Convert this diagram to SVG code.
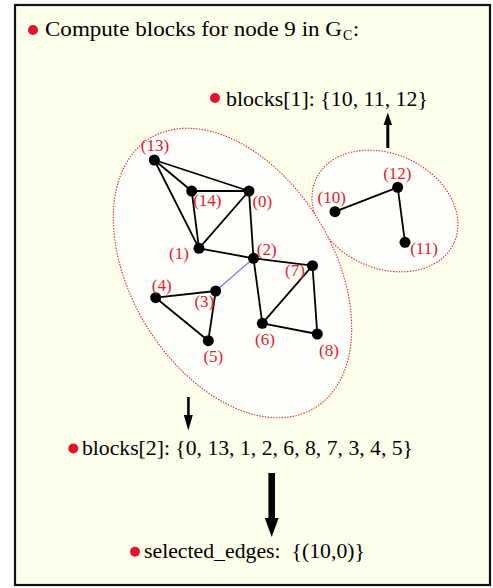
<svg xmlns="http://www.w3.org/2000/svg" width="493" height="588" viewBox="0 0 493 588">
<style>
.txt{font-family:"Liberation Serif","Times New Roman",serif;font-size:22px;fill:#000}
.lbl{font-family:"Liberation Serif","Times New Roman",serif;font-size:17px;fill:#e3202c;text-anchor:middle}
.bul{fill:#e5102c}
.blk{stroke:#e3202c;stroke-width:1.1;stroke-dasharray:1.4 1.4;fill:#fefffb}
.e{stroke:#000;stroke-width:1.8;fill:none}
.n{fill:#000}
</style>
<rect x="15" y="5" width="475" height="580" fill="#fdffea" stroke="#111" stroke-width="2.2"/>
<g id="title">
<circle class="bul" cx="33" cy="30" r="5"/>
<text class="txt" x="45" y="36" textLength="297" lengthAdjust="spacingAndGlyphs">Compute blocks for node 9 in G</text>
<text class="txt" x="343" y="40" style="font-size:14px">C</text>
<text class="txt" x="353" y="36">:</text>
</g>
<g id="block1-ellipse">
<ellipse class="blk" cx="385" cy="211" rx="76" ry="57" transform="rotate(25 385 211)"/>
</g>
<g id="block2-ellipse">
<ellipse class="blk" cx="232.5" cy="273" rx="158" ry="101" transform="rotate(58.6 232.5 273)"/>
</g>
<g id="connectors">
<line class="e" x1="154.3" y1="160" x2="191.7" y2="191"/>
<line class="e" x1="154.3" y1="160" x2="249" y2="191"/>
<line class="e" x1="154.3" y1="160" x2="199" y2="248.3"/>
<line class="e" x1="191.7" y1="191" x2="249" y2="191"/>
<line class="e" x1="191.7" y1="191" x2="199" y2="248.3"/>
<line class="e" x1="249" y1="191" x2="199" y2="248.3"/>
<line class="e" x1="249" y1="191" x2="253.5" y2="258.3"/>
<line class="e" x1="199" y1="248.3" x2="253.5" y2="258.3"/>
<line x1="253.5" y1="258.3" x2="215.7" y2="291" stroke="#8f6cf0" stroke-width="1.2"/>
<line class="e" x1="253.5" y1="258.3" x2="312.5" y2="265.7"/>
<line class="e" x1="253.5" y1="258.3" x2="262.3" y2="323.3"/>
<line class="e" x1="312.5" y1="265.7" x2="262.3" y2="323.3"/>
<line class="e" x1="312.5" y1="265.7" x2="317.3" y2="334"/>
<line class="e" x1="262.3" y1="323.3" x2="317.3" y2="334"/>
<line class="e" x1="155.7" y1="297.7" x2="215.7" y2="291"/>
<line class="e" x1="155.7" y1="297.7" x2="208.3" y2="340.7"/>
<line class="e" x1="215.7" y1="291" x2="208.3" y2="340.7"/>
<line class="e" x1="335" y1="211.7" x2="397.7" y2="187.3"/>
<line class="e" x1="397.7" y1="187.3" x2="405" y2="242.3"/>
<rect x="386.3" y="122" width="3" height="26" fill="#000"/>
<polygon points="383.5,125 392,125 387.8,112.5" fill="#000"/>
<rect x="187.1" y="397" width="2.6" height="20" fill="#000"/>
<polygon points="183.8,415 192.8,415 188.3,430.5" fill="#000"/>
<rect x="268.4" y="473" width="6.6" height="47" fill="#000"/>
<polygon points="264.8,518 278.6,518 271.7,537" fill="#000"/>
</g>
<g id="node0"><circle class="n" cx="249" cy="191" r="5.5"/><text class="lbl" x="262.3" y="206.5">(0)</text></g>
<g id="node1"><circle class="n" cx="199" cy="248.3" r="5.5"/><text class="lbl" x="179" y="258.5">(1)</text></g>
<g id="node2"><circle class="n" cx="253.5" cy="258.3" r="5.5"/><text class="lbl" x="266.7" y="254.5">(2)</text></g>
<g id="node3"><circle class="n" cx="215.7" cy="291" r="5.5"/><text class="lbl" x="204.3" y="307">(3)</text></g>
<g id="node4"><circle class="n" cx="155.7" cy="297.7" r="5.5"/><text class="lbl" x="161.7" y="290.5">(4)</text></g>
<g id="node5"><circle class="n" cx="208.3" cy="340.7" r="5.5"/><text class="lbl" x="213.3" y="361.5">(5)</text></g>
<g id="node6"><circle class="n" cx="262.3" cy="323.3" r="5.5"/><text class="lbl" x="265" y="344.5">(6)</text></g>
<g id="node7"><circle class="n" cx="312.5" cy="265.7" r="5.5"/><text class="lbl" x="295" y="275.5">(7)</text></g>
<g id="node8"><circle class="n" cx="317.3" cy="334" r="5.5"/><text class="lbl" x="329" y="355.5">(8)</text></g>
<g id="node13"><circle class="n" cx="154.3" cy="160" r="5.5"/><text class="lbl" x="155" y="151">(13)</text></g>
<g id="node14"><circle class="n" cx="191.7" cy="191" r="5.5"/><text class="lbl" x="207.3" y="206">(14)</text></g>
<g id="node10"><circle class="n" cx="335" cy="211.7" r="5.5"/><text class="lbl" x="331.7" y="203">(10)</text></g>
<g id="node11"><circle class="n" cx="405" cy="242.3" r="5.5"/><text class="lbl" x="424" y="253.5">(11)</text></g>
<g id="node12"><circle class="n" cx="397.7" cy="187.3" r="5.5"/><text class="lbl" x="397.3" y="178.5">(12)</text></g>
<g id="blocks1">
<circle class="bul" cx="215" cy="98" r="5"/>
<text class="txt" x="226" y="106" textLength="202" lengthAdjust="spacingAndGlyphs">blocks[1]: {10, 11, 12}</text>
</g>
<g id="blocks2">
<circle class="bul" cx="73.3" cy="448.5" r="5"/>
<text class="txt" x="82" y="455" textLength="331" lengthAdjust="spacingAndGlyphs">blocks[2]: {0, 13, 1, 2, 6, 8, 7, 3, 4, 5}</text>
</g>
<g id="selected">
<circle class="bul" cx="135" cy="551.7" r="5"/>
<text class="txt" x="144" y="558" textLength="221" lengthAdjust="spacingAndGlyphs" xml:space="preserve">selected_edges:  {(10,0)}</text>
</g>
</svg>
